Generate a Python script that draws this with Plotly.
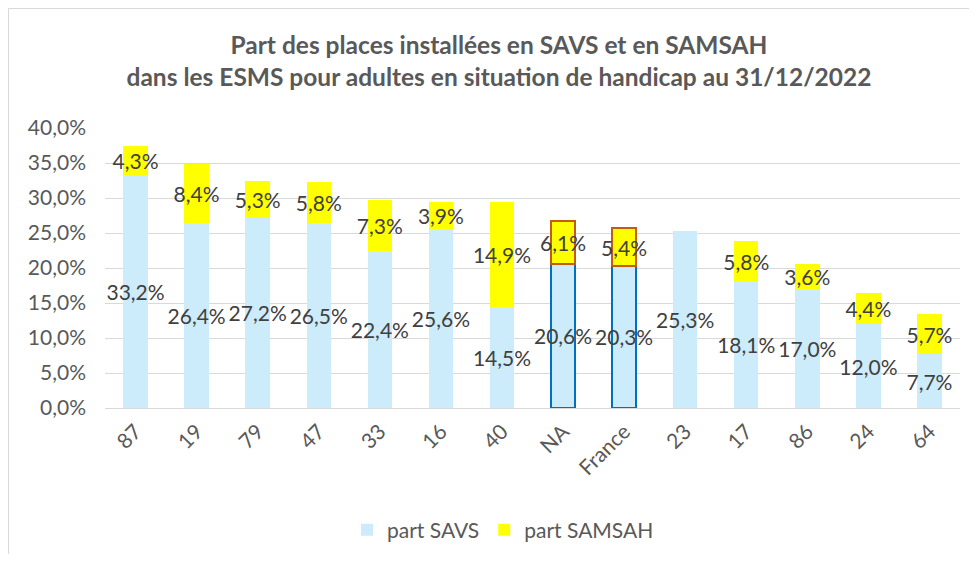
import plotly.graph_objects as go

categories = ["87", "19", "79", "47", "33", "16", "40", "NA", "France", "23", "17", "86", "24", "64"]
part_savs = [33.2, 26.4, 27.2, 26.5, 22.4, 25.6, 14.5, 20.6, 20.3, 25.3, 18.1, 17.0, 12.0, 7.7]
part_samsah = [4.3, 8.4, 5.3, 5.8, 7.3, 3.9, 14.9, 6.1, 5.4, 0.0, 5.8, 3.6, 4.4, 5.7]
highlight = ["NA", "France"]

FONT = "Lato, 'Open Sans', sans-serif"
TXT = "#404040"
AXIS = "#595959"

# page body has an 8px margin, so the figure is sized to fit inside it
W, H = 961, 546
L, T, R, B = 97, 120, 9, 146
PW, PH = W - L - R, H - T - B


def pct(v):
    return f"{v:.1f}%".replace(".", ",") if v > 0 else ""


def outline(color):
    cols = [color if c in highlight else "rgba(0,0,0,0)" for c in categories]
    widths = [2 if c in highlight else 0 for c in categories]
    return dict(color=cols, width=widths)


fig = go.Figure()

fig.add_trace(go.Bar(
    x=categories, y=part_savs, name="part SAVS",
    marker=dict(color="#CCEBFB", line=outline("#0070C0")),
    text=[pct(v) for v in part_savs],
    textposition="inside", insidetextanchor="middle", textangle=0,
    constraintext="none", cliponaxis=False,
    textfont=dict(family=FONT, size=21, color=TXT),
))

fig.add_trace(go.Bar(
    x=categories, y=part_samsah, name="part SAMSAH",
    marker=dict(color="#FFFF00", line=outline("#C55A11")),
    text=[pct(v) for v in part_samsah],
    textposition="inside", insidetextanchor="middle", textangle=0,
    constraintext="none", cliponaxis=False,
    textfont=dict(family=FONT, size=21, color=TXT),
))

fig.update_layout(
    barmode="stack",
    bargap=0.6,
    width=W, height=H,
    margin=dict(l=L, r=R, t=T, b=B, autoexpand=False),
    plot_bgcolor="white",
    paper_bgcolor="white",
    separators=",.",
    font=dict(family=FONT, color=AXIS, size=21),
    title=dict(
        text="<b>Part des places installées en SAVS et en SAMSAH<br>dans les ESMS pour adultes en situation de handicap au 31/12/2022</b>",
        xref="container", x=491 / W, xanchor="center",
        yref="container", y=1 - 46 / H, yanchor="top",
        font=dict(family=FONT, size=24.5, color=AXIS),
    ),
    legend=dict(
        orientation="h", xref="container", x=495 / W, xanchor="center",
        yref="container", y=24 / H, yanchor="middle",
        font=dict(family=FONT, size=21, color=AXIS),
        itemwidth=30, traceorder="normal",
    ),
)

fig.update_yaxes(
    range=[0, 40], dtick=5, ticksuffix="%",
    tickformat=".1f", automargin=False, ticklabelstandoff=18,
    showgrid=True, gridcolor="#D9D9D9", gridwidth=1,
    zeroline=False, showline=False, ticks="",
    tickfont=dict(family=FONT, size=21, color=AXIS),
)

fig.update_xaxes(
    tickangle=-45, showline=True, linecolor="#D9D9D9", linewidth=1,
    ticks="", automargin=False, ticklabelstandoff=2,
    tickfont=dict(family=FONT, size=21, color=AXIS),
)

# chart frame
fig.add_shape(type="rect", xref="paper", yref="paper",
              x0=(0.5 - L) / PW, x1=(W + 20 - L) / PW,
              y0=(PH - 560) / PH, y1=(PH + T - 0.5) / PH,
              line=dict(color="#D9D9D9", width=1), layer="below")

fig.write_html("out.html")
